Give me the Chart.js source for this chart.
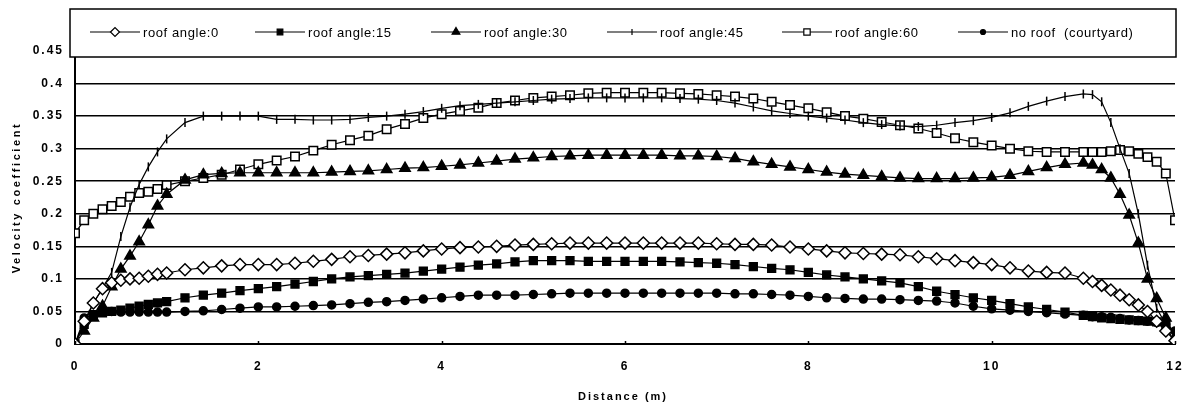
<!DOCTYPE html>
<html>
<head>
<meta charset="utf-8">
<script src="https://cdn.jsdelivr.net/npm/chart.js@4/dist/chart.umd.min.js"></script>
<style>
  html, body { margin: 0; padding: 0; background: #fff; }
  #wrap { width: 1187px; height: 411px; }
</style>
</head>
<body>
<div id="wrap"><canvas id="chart"></canvas></div>
<script>
// distance along the courtyard (m)
const distance = [
  0, 0.1, 0.2, 0.3, 0.4, 0.5, 0.6, 0.7, 0.8, 0.9, 1.0,
  1.2, 1.4, 1.6, 1.8, 2.0, 2.2, 2.4, 2.6, 2.8, 3.0,
  3.2, 3.4, 3.6, 3.8, 4.0, 4.2, 4.4, 4.6, 4.8, 5.0,
  5.2, 5.4, 5.6, 5.8, 6.0, 6.2, 6.4, 6.6, 6.8, 7.0,
  7.2, 7.4, 7.6, 7.8, 8.0, 8.2, 8.4, 8.6, 8.8, 9.0,
  9.2, 9.4, 9.6, 9.8, 10.0, 10.2, 10.4, 10.6, 10.8, 11.0,
  11.1, 11.2, 11.3, 11.4, 11.5, 11.6, 11.7, 11.8, 11.9, 12.0
];

const roof0 = [
  0.0, 0.035, 0.063, 0.085, 0.094, 0.098, 0.1, 0.101, 0.104, 0.107, 0.109,
  0.114, 0.117, 0.12, 0.122, 0.122, 0.122, 0.124, 0.127, 0.13, 0.134,
  0.136, 0.138, 0.14, 0.143, 0.146, 0.148, 0.149, 0.15, 0.152, 0.153,
  0.154, 0.155, 0.155, 0.155, 0.155, 0.155, 0.155, 0.155, 0.155, 0.154,
  0.153, 0.153, 0.152, 0.149, 0.146, 0.143, 0.14, 0.139, 0.138, 0.137,
  0.134, 0.131, 0.128, 0.125, 0.122, 0.117, 0.112, 0.11, 0.109, 0.101,
  0.096, 0.09, 0.083, 0.075, 0.068, 0.06, 0.05, 0.035, 0.02, 0.005
];

const roof15 = [
  0.0, 0.03, 0.045, 0.048, 0.05, 0.052, 0.055, 0.058, 0.061, 0.063, 0.065,
  0.071, 0.075, 0.078, 0.082, 0.085, 0.088, 0.092, 0.096, 0.1, 0.103,
  0.105, 0.107, 0.109, 0.112, 0.115, 0.118, 0.121, 0.123, 0.126, 0.128,
  0.128, 0.128, 0.127, 0.127, 0.127, 0.127, 0.127, 0.126, 0.125, 0.124,
  0.122, 0.119, 0.116, 0.114, 0.11, 0.106, 0.103, 0.1, 0.097, 0.094,
  0.088, 0.081, 0.076, 0.071, 0.067, 0.062, 0.057, 0.053, 0.049, 0.044,
  0.042, 0.04, 0.039, 0.038, 0.037, 0.036, 0.035, 0.034, 0.03, 0.0
];

const roof30 = [
  0.0, 0.02, 0.04, 0.058, 0.088, 0.115, 0.135, 0.157, 0.183, 0.212, 0.23,
  0.252, 0.26, 0.262, 0.263, 0.263, 0.263, 0.263, 0.263, 0.264, 0.265,
  0.266, 0.268, 0.27, 0.271, 0.273, 0.275, 0.278, 0.281, 0.284, 0.286,
  0.288, 0.289, 0.29, 0.29, 0.29, 0.29, 0.29, 0.289, 0.289, 0.288,
  0.285, 0.28, 0.276, 0.272, 0.268, 0.264, 0.261, 0.259, 0.257, 0.255,
  0.254, 0.254, 0.254, 0.255, 0.256, 0.259, 0.265, 0.271, 0.276, 0.278,
  0.275, 0.268, 0.255, 0.23, 0.198, 0.155, 0.1, 0.07, 0.04, 0.01
];

const roof45 = [
  0.0, 0.03, 0.063, 0.085, 0.11, 0.165, 0.21, 0.245, 0.272, 0.295, 0.315,
  0.34, 0.35, 0.35, 0.35, 0.35, 0.345, 0.345, 0.344, 0.344, 0.345,
  0.348, 0.35, 0.353, 0.357, 0.362, 0.366, 0.368, 0.37, 0.372, 0.374,
  0.376, 0.377, 0.378, 0.378, 0.378, 0.378, 0.378, 0.377, 0.376, 0.374,
  0.37, 0.364, 0.358, 0.354, 0.35, 0.347, 0.344, 0.34, 0.337, 0.335,
  0.334, 0.336, 0.34, 0.343, 0.348, 0.355, 0.365, 0.373, 0.38, 0.384,
  0.383, 0.372, 0.34, 0.3, 0.262, 0.2, 0.121, 0.055, 0.03, 0.01
];

const roof60 = [
  0.17, 0.19, 0.2, 0.207, 0.212, 0.218, 0.226, 0.232, 0.234, 0.238, 0.244,
  0.25, 0.255, 0.26, 0.268, 0.276, 0.282, 0.288, 0.297, 0.306, 0.313,
  0.32, 0.33, 0.338, 0.347, 0.353, 0.358, 0.363, 0.37, 0.374, 0.378,
  0.38, 0.382, 0.385, 0.386, 0.386, 0.386, 0.386, 0.385, 0.384, 0.382,
  0.38, 0.377, 0.372, 0.367, 0.362, 0.356, 0.35, 0.346, 0.341, 0.336,
  0.331, 0.324, 0.316, 0.31, 0.305, 0.3, 0.296, 0.295, 0.295, 0.295,
  0.295, 0.295, 0.296, 0.298, 0.296, 0.292, 0.287, 0.28, 0.262, 0.19
];

const noRoof = [
  0.0, 0.04, 0.045, 0.05, 0.05, 0.049, 0.049, 0.049, 0.049, 0.049, 0.049,
  0.05, 0.051, 0.053, 0.055, 0.057, 0.057, 0.058, 0.059, 0.06, 0.062,
  0.064, 0.065, 0.067, 0.069, 0.071, 0.073, 0.075, 0.075, 0.075, 0.076,
  0.077, 0.078, 0.078, 0.078, 0.078, 0.078, 0.078, 0.078, 0.078, 0.078,
  0.077, 0.077, 0.076, 0.075, 0.073, 0.071, 0.07, 0.069, 0.069, 0.068,
  0.067, 0.066, 0.063, 0.058, 0.054, 0.052, 0.05, 0.048, 0.046, 0.044,
  0.042, 0.042, 0.041, 0.039, 0.037, 0.036, 0.035, 0.033, 0.03, 0.02
];

const seriesNames = ['roof angle:0', 'roof angle:15', 'roof angle:30', 'roof angle:45', 'roof angle:60', 'no roof  (courtyard)'];
const yTicks = [0, 0.05, 0.1, 0.15, 0.2, 0.25, 0.3, 0.35, 0.4, 0.45];
const yTickLabels = ['0', '0.05', '0.1', '0.15', '0.2', '0.25', '0.3', '0.35', '0.4', '0.45'];
const xTicks = [0, 2, 4, 6, 8, 10, 12];

const FONT = "'Liberation Sans', Arial, sans-serif";

// marker look per series
const markers = [
  { pointStyle: 'rectRot', radius: 6, rotation: 0, bg: '#fff' },
  { pointStyle: 'rect', radius: 5.5, rotation: 0, bg: '#000' },
  { pointStyle: 'triangle', radius: 6, rotation: 0, bg: '#000' },
  { pointStyle: 'line', radius: 4.5, rotation: 90, bg: '#000' },
  { pointStyle: 'rect', radius: 6, rotation: 0, bg: '#fff' },
  { pointStyle: 'circle', radius: 4, rotation: 0, bg: '#000' }
];

const allValues = [roof0, roof15, roof30, roof45, roof60, noRoof];
const datasets = allValues.map((vals, i) => ({
  label: seriesNames[i],
  data: distance.map((d, j) => ({ x: d, y: vals[j] })),
  borderColor: '#000',
  borderWidth: 1.2,
  pointStyle: markers[i].pointStyle,
  pointRadius: markers[i].radius,
  pointRotation: markers[i].rotation,
  pointBackgroundColor: markers[i].bg,
  pointBorderColor: '#000',
  pointBorderWidth: 1.5,
  tension: 0
}));

// legend box overlapping the plot top + axis titles + inner x ticks
const overlay = {
  id: 'overlay',
  beforeDraw(chart) {
    chart.ctx.letterSpacing = '2px';
  },
  afterDraw(chart) {
    const ctx = chart.ctx;
    const xs = chart.scales.x, ys = chart.scales.y;
    ctx.save();
    // small tick marks on the x axis, pointing up
    ctx.strokeStyle = '#000';
    ctx.lineWidth = 1.5;
    xTicks.forEach(v => {
      const px = Math.round(xs.getPixelForValue(v)) + 0.5;
      ctx.beginPath();
      ctx.moveTo(px, ys.bottom);
      ctx.lineTo(px, ys.bottom - 3);
      ctx.stroke();
    });

    // legend
    const box = { l: 70, t: 9, r: 1176, b: 57 };
    ctx.fillStyle = '#fff';
    ctx.fillRect(box.l, box.t, box.r - box.l, box.b - box.t);
    ctx.lineWidth = 1.5;
    ctx.strokeStyle = '#000';
    ctx.strokeRect(box.l, box.t, box.r - box.l, box.b - box.t);
    const itemX = [90, 255, 431, 607, 782, 958];
    const ly = 32;
    ctx.font = '13px ' + FONT;
    ctx.letterSpacing = '0.6px';
    ctx.textBaseline = 'middle';
    ctx.textAlign = 'left';
    seriesNames.forEach((name, i) => {
      const x0 = itemX[i];
      ctx.strokeStyle = '#000';
      ctx.lineWidth = 1.2;
      ctx.beginPath();
      ctx.moveTo(x0, ly);
      ctx.lineTo(x0 + 50, ly);
      ctx.stroke();
      ctx.fillStyle = markers[i].bg;
      Chart.helpers.drawPoint(ctx, {
        pointStyle: markers[i].pointStyle,
        rotation: markers[i].rotation,
        radius: markers[i].radius - 1.5,
        borderWidth: 1.2
      }, x0 + 25, ly);
      ctx.fillStyle = '#000';
      ctx.fillText(name, x0 + 53, ly + 1);
    });

    // axis titles
    ctx.fillStyle = '#000';
    ctx.font = 'bold 11px ' + FONT;
    ctx.textAlign = 'center';
    ctx.textBaseline = 'middle';
    ctx.letterSpacing = '2px';
    ctx.fillText('Distance (m)', 623, 397);
    ctx.letterSpacing = '2.6px';
    ctx.translate(17, (ys.top + ys.bottom) / 2);
    ctx.rotate(-Math.PI / 2);
    ctx.fillText('Velocity coefficient', 0, 0);
    ctx.restore();
  }
};

new Chart(document.getElementById('chart'), {
  type: 'line',
  data: { datasets },
  options: {
    responsive: true,
    maintainAspectRatio: false,
    animation: false,
    layout: { padding: { top: 51, right: 12, left: 0, bottom: 0 } },
    plugins: { legend: { display: false }, tooltip: { enabled: false } },
    scales: {
      x: {
        type: 'linear',
        min: 0, max: 12,
        afterBuildTicks: s => { s.ticks = xTicks.map(v => ({ value: v })); },
        afterFit: s => { s.height = 67; },
        grid: { display: false, drawTicks: true, tickLength: 13 },
        border: { display: true, color: '#000', width: 2 },
        ticks: { color: '#000', font: { family: FONT, size: 12, weight: 'bold' }, padding: 2, maxRotation: 0 }
      },
      y: {
        min: 0, max: 0.45,
        afterBuildTicks: s => { s.ticks = yTicks.map(v => ({ value: v })); },
        afterFit: s => { s.width = 75; },
        grid: { color: '#000', lineWidth: 1.5, drawTicks: false },
        border: { display: true, color: '#000', width: 2 },
        ticks: {
          color: '#000', font: { family: FONT, size: 12, weight: 'bold' }, padding: 11,
          callback: (v, i) => yTickLabels[i]
        }
      }
    }
  },
  plugins: [overlay]
});
</script>
</body>
</html>
